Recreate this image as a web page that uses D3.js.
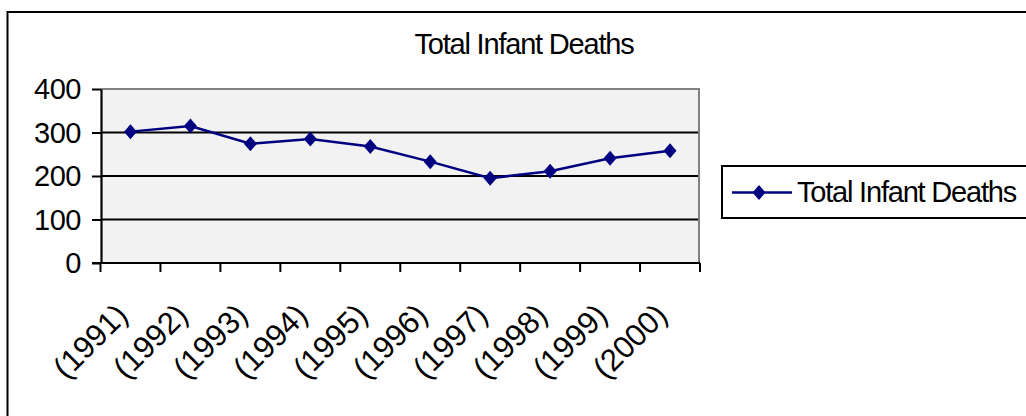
<!DOCTYPE html>
<html>
<head>
<meta charset="utf-8">
<script src="https://cdn.jsdelivr.net/npm/d3@7"></script>
<style>
  body { margin: 0; background: #fff; }
  text { font-family: "Liberation Sans", Arial, sans-serif; fill: #000; }
</style>
</head>
<body>
<div id="chart"></div>
<script>
const years = ['(1991)', '(1992)', '(1993)', '(1994)', '(1995)', '(1996)', '(1997)', '(1998)', '(1999)', '(2000)'];
const deaths = [302, 315, 274, 285, 268, 233, 195, 211, 241, 258];
const yTicks = [0, 100, 200, 300, 400];
const seriesName = 'Total Infant Deaths';
const chartTitle = 'Total Infant Deaths';

const width = 1026;
const height = 416;
const plot = { left: 101, right: 699, top: 89, bottom: 263 };
const navy = '#000080';

const svg = d3.select('#chart')
  .append('svg')
  .attr('width', width)
  .attr('height', height);

// outer chart border, runs off the right and bottom edges
svg.append('rect')
  .attr('x', 7.5)
  .attr('y', 12)
  .attr('width', 1040)
  .attr('height', 420)
  .attr('fill', 'none')
  .attr('stroke', '#000')
  .attr('stroke-width', 2);

const x = d3.scaleBand()
  .domain(years)
  .range([plot.left - 0.5, plot.right + 1]);

const y = d3.scaleLinear()
  .domain([0, 400])
  .range([plot.bottom, plot.top]);

// plot area
svg.append('rect')
  .attr('x', plot.left)
  .attr('y', plot.top)
  .attr('width', plot.right - plot.left)
  .attr('height', plot.bottom - plot.top)
  .attr('fill', '#f2f2f2');

// gridlines
svg.append('g')
  .selectAll('line')
  .data(yTicks.filter(d => d > 0 && d < 400))
  .join('line')
  .attr('x1', plot.left)
  .attr('x2', plot.right)
  .attr('y1', d => y(d))
  .attr('y2', d => y(d))
  .attr('stroke', '#000')
  .attr('stroke-width', 2.2);

// gray top/right border of plot area
svg.append('path')
  .attr('d', `M${plot.left},${plot.top}H${plot.right}V${plot.bottom}`)
  .attr('fill', 'none')
  .attr('stroke', '#808080')
  .attr('stroke-width', 2);

// y axis
const yAxis = svg.append('g')
  .attr('transform', `translate(${plot.left},0)`)
  .call(d3.axisLeft(y).tickValues(yTicks).tickSize(9).tickPadding(11).tickSizeOuter(0));
yAxis.select('.domain').attr('stroke', '#000').attr('stroke-width', 2.2);
yAxis.selectAll('.tick line').attr('stroke', '#000').attr('stroke-width', 2);
yAxis.selectAll('.tick text')
  .style('font-size', '29px')
  .style('font-family', '"Liberation Sans", Arial, sans-serif')
  .style('letter-spacing', '-0.5px')
  .attr('dy', '0.34em');

// x axis: ticks on the category boundaries
const boundaries = years.map(d => x(d)).concat([x(years[years.length - 1]) + x.bandwidth()]);
const xAxis = svg.append('g');
xAxis.append('line')
  .attr('x1', plot.left - 9)
  .attr('x2', plot.right + 1)
  .attr('y1', plot.bottom)
  .attr('y2', plot.bottom)
  .attr('stroke', '#000')
  .attr('stroke-width', 2.2);
xAxis.selectAll('line.tick')
  .data(boundaries)
  .join('line')
  .attr('class', 'tick')
  .attr('x1', d => d)
  .attr('x2', d => d)
  .attr('y1', plot.bottom)
  .attr('y2', plot.bottom + 9)
  .attr('stroke', '#000')
  .attr('stroke-width', 2);
xAxis.selectAll('text')
  .data(years)
  .join('text')
  .attr('text-anchor', 'end')
  .attr('transform', d => `translate(${x(d) + x.bandwidth() / 2 - 1},317) rotate(-45)`)
  .style('font-size', '31px')
  .text(d => d);

// series line
const line = d3.line()
  .x((d, i) => x(years[i]) + x.bandwidth() / 2)
  .y(d => y(d));

svg.append('path')
  .datum(deaths)
  .attr('d', line)
  .attr('fill', 'none')
  .attr('stroke', navy)
  .attr('stroke-width', 2.5);

const diamond = 'M0,-7.5L6.5,0L0,7.5L-6.5,0Z';

svg.append('g')
  .selectAll('path')
  .data(deaths)
  .join('path')
  .attr('d', diamond)
  .attr('transform', (d, i) => `translate(${x(years[i]) + x.bandwidth() / 2},${y(d)})`)
  .attr('fill', navy);

// title
svg.append('text')
  .attr('x', 524)
  .attr('y', 54)
  .attr('text-anchor', 'middle')
  .style('font-size', '29px')
  .style('letter-spacing', '-1.2px')
  .text(chartTitle);

// legend
const legend = svg.append('g');
legend.append('rect')
  .attr('x', 722)
  .attr('y', 166)
  .attr('width', 320)
  .attr('height', 52)
  .attr('fill', '#fff')
  .attr('stroke', '#000')
  .attr('stroke-width', 2);
legend.append('line')
  .attr('x1', 732)
  .attr('x2', 792)
  .attr('y1', 192.5)
  .attr('y2', 192.5)
  .attr('stroke', navy)
  .attr('stroke-width', 2.5);
legend.append('path')
  .attr('d', diamond)
  .attr('transform', 'translate(759,192.5)')
  .attr('fill', navy);
legend.append('text')
  .attr('x', 797)
  .attr('y', 201.5)
  .style('font-size', '29px')
  .style('letter-spacing', '-1.2px')
  .text(seriesName);
</script>
</body>
</html>
